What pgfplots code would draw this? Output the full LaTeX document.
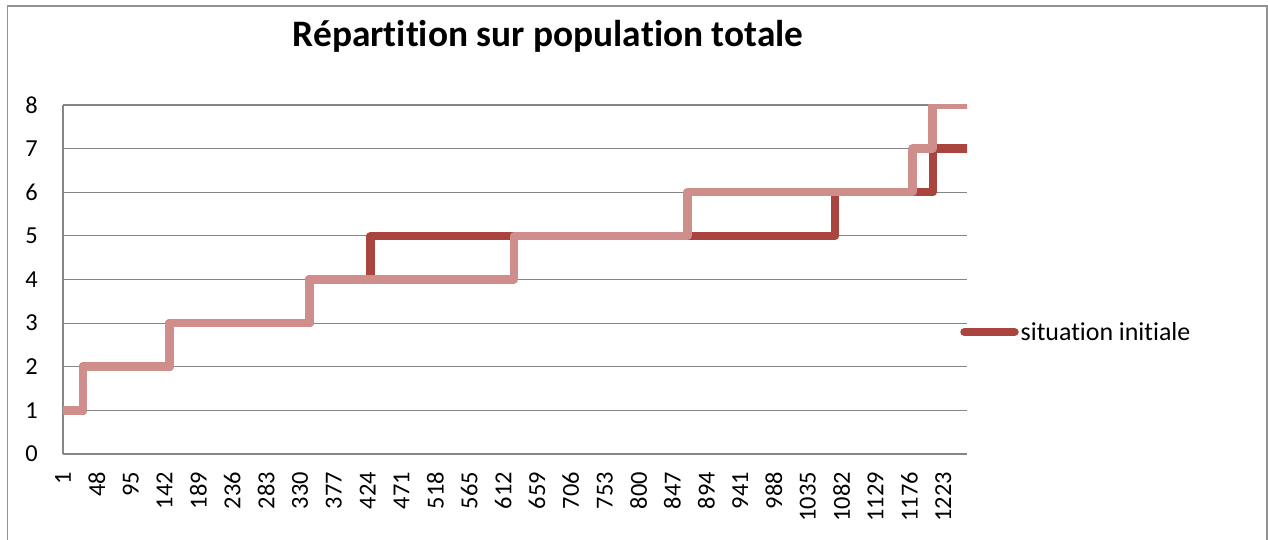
\documentclass[border=0pt]{standalone}
\usepackage{pgfplots}
\pgfplotsset{compat=1.18}
\usepackage{fontspec}
\setmainfont{Carlito}[Ligatures=NoCommon]
\definecolor{darkred}{HTML}{A9443F}
\definecolor{pinkred}{HTML}{CF8D8C}
\definecolor{gridgray}{HTML}{868686}
\begin{document}
\begin{tikzpicture}[x=1bp,y=1bp]
\useasboundingbox (0,0) rectangle (1268,540);
\draw[gridgray!90, line width=1.3bp] (7.5,-5) -- (7.5,534) -- (1267,534) -- (1267,-5);
\node[font=\fontsize{37.5}{44}\selectfont\bfseries] at (548,504) {Répartition sur population totale};
\begin{axis}[
  at={(63bp,86bp)}, anchor=south west,
  scale only axis, width=904bp, height=349bp,
  xmin=1, xmax=1256, ymin=0, ymax=8,
  ytick={0,1,2,3,4,5,6,7,8},
  xtick={1,48,95,142,189,236,283,330,377,424,471,518,565,612,659,706,753,800,847,894,941,988,1035,1082,1129,1176,1223},
  /pgf/number format/assume math mode=true,
  /pgf/number format/1000 sep={},
  axis x line*=bottom, axis y line*=left,
  axis line style={gridgray, line width=1.2bp},
  ymajorgrids, major grid style={gridgray, line width=1.2bp},
  major tick length=0pt,
  tick style={draw=none},
  yticklabel shift=25bp, xticklabel shift=18bp,
  yticklabel style={font=\fontsize{24.5}{28}\selectfont, inner sep=0pt, anchor=east},
  xticklabel style={font=\fontsize{24.5}{28}\selectfont, inner sep=0pt, rotate=90, anchor=east},
  legend style={at={(0.9923,0.349)}, anchor=west, draw=none, fill=none, inner sep=0pt,
    font=\fontsize{26}{31}\selectfont},
  legend image code/.code={\draw[#1, line cap=round] (0bp,0bp) -- (50bp,0bp);},
  every axis plot/.append style={line width=8.5bp, line join=round, line cap=round, no markers, const plot},
]
\addplot[darkred] coordinates {(1,1) (29,2) (149,3) (343,4) (428,5) (1073,6) (1209,7) (1256,7)};
\addlegendentry{situation initiale}
\addplot[pinkred, forget plot] coordinates {(1,1) (29,2) (149,3) (343,4) (627,5) (868,6) (1180,7) (1208,8) (1256,8)};
\end{axis}
\end{tikzpicture}
\end{document}
